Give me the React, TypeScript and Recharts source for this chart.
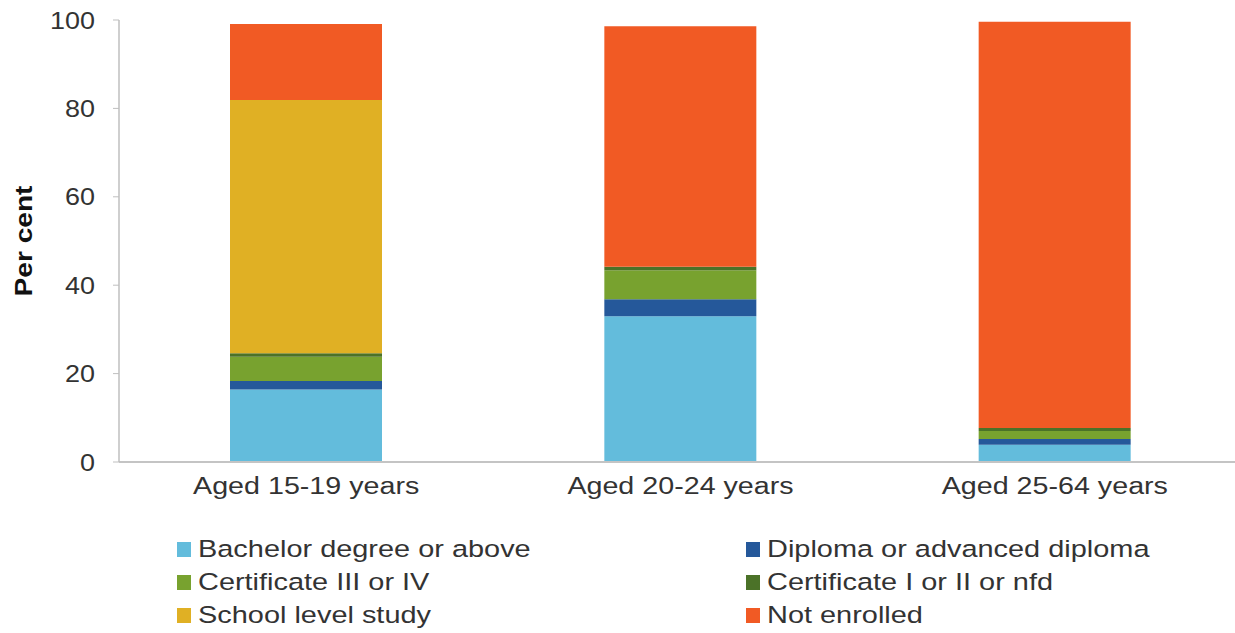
import React from 'react';
import { BarChart, Bar, XAxis, YAxis } from 'recharts';

const categories = ['Aged 15-19 years', 'Aged 20-24 years', 'Aged 25-64 years'];
const bachelor = [16.4, 33.0, 3.9];
const diploma = [1.9, 3.8, 1.3];
const certIIIorIV = [5.5, 6.6, 1.8];
const certIorII = [0.8, 0.8, 0.7];
const school = [57.3, 0, 0];
const notEnrolled = [17.2, 54.4, 91.9];
const yTicks = [0, 20, 40, 60, 80, 100];

const seriesNames = [
  'Bachelor degree or above',
  'Diploma or advanced diploma',
  'Certificate III or IV',
  'Certificate I or II or nfd',
  'School level study',
  'Not enrolled',
];
const seriesKeys = ['bachelor', 'diploma', 'cert34', 'cert12', 'school', 'notEnrolled'];
const seriesColors = ['#63BCDC', '#25589A', '#78A22F', '#4B7228', '#E0B024', '#F15A24'];
const seriesValues = [bachelor, diploma, certIIIorIV, certIorII, school, notEnrolled];

const data = categories.map((c, i) => {
  const row: any = { category: c };
  seriesKeys.forEach((k, j) => {
    row[k] = seriesValues[j][i];
  });
  return row;
});

const FONT = '"Liberation Sans", Arial, sans-serif';
const TEXT = '#333333';
const SX = 1.17;
const LSX = 1.18;

const XTick = (props: any) => {
  const { x, y, payload } = props;
  return (
    <g transform={`translate(${x},${y + 24})`}>
      <text transform={`scale(${SX},1)`} textAnchor="middle" fontSize={24.5} fontFamily={FONT} fill={TEXT}>
        {payload.value}
      </text>
    </g>
  );
};

const YTick = (props: any) => {
  const { x, y, payload } = props;
  return (
    <g transform={`translate(${x - 16},${y})`}>
      <text transform={`scale(1.1,1)`} textAnchor="end" dominantBaseline="central" fontSize={24.5} fontFamily={FONT} fill={TEXT}>
        {payload.value}
      </text>
    </g>
  );
};

const YLabel = (props: any) => {
  const vb = props.viewBox || {};
  const cy = (vb.y || 0) + (vb.height || 0) / 2;
  return (
    <g transform={`translate(24,${cy}) rotate(-90)`}>
      <text transform={`scale(1.17,1)`} textAnchor="middle" dominantBaseline="central" fontSize={24} fontWeight="bold" fontFamily={FONT} fill="#111">
        Per cent
      </text>
    </g>
  );
};

const legendRows = [0, 1, 2];

export default function App() {
  return (
    <div style={{ position: 'absolute', left: 0, top: 0, width: 1235, height: 633, overflow: 'hidden', background: '#fff' }}>
      <BarChart
        width={1242}
        height={520}
        data={data}
        margin={{ top: 20, right: 0, bottom: 0, left: 0 }}
      >
        <XAxis
          dataKey="category"
          height={58}
          tickLine={false}
          axisLine={{ stroke: '#C4C4C4', strokeWidth: 2 }}
          tick={<XTick />}
          interval={0}
        />
        <YAxis
          width={119}
          domain={[0, 100]}
          ticks={yTicks}
          tickSize={6}
          tickLine={{ stroke: '#BFBFBF' }}
          axisLine={{ stroke: '#BFBFBF', strokeWidth: 1.5 }}
          tick={<YTick />}
          label={<YLabel />}
        />
        {seriesKeys.map((k, j) => (
          <Bar
            key={k}
            dataKey={k}
            name={seriesNames[j]}
            stackId="a"
            fill={seriesColors[j]}
            barSize={152}
            isAnimationActive={false}
          />
        ))}
      </BarChart>
      <div style={{ position: 'absolute', left: 0, top: 0, width: 1235, height: 633, pointerEvents: 'none' }}>
        {seriesNames.map((name, j) => {
          const col = j % 2;
          const row = legendRows[Math.floor(j / 2)];
          const left = col === 0 ? 177 : 746;
          const cy = 549 + row * 33;
          return (
            <div key={name} style={{ position: 'absolute', left, top: cy - 16, height: 32, display: 'flex', alignItems: 'center', whiteSpace: 'nowrap' }}>
              <span style={{ display: 'inline-block', width: 14, height: 15, background: seriesColors[j], marginRight: 7 }} />
              <span style={{ display: 'inline-block', fontFamily: FONT, fontSize: 24.5, color: TEXT, transform: `scaleX(${LSX})`, transformOrigin: 'left center', lineHeight: '32px' }}>
                {name}
              </span>
            </div>
          );
        })}
      </div>
    </div>
  );
}
